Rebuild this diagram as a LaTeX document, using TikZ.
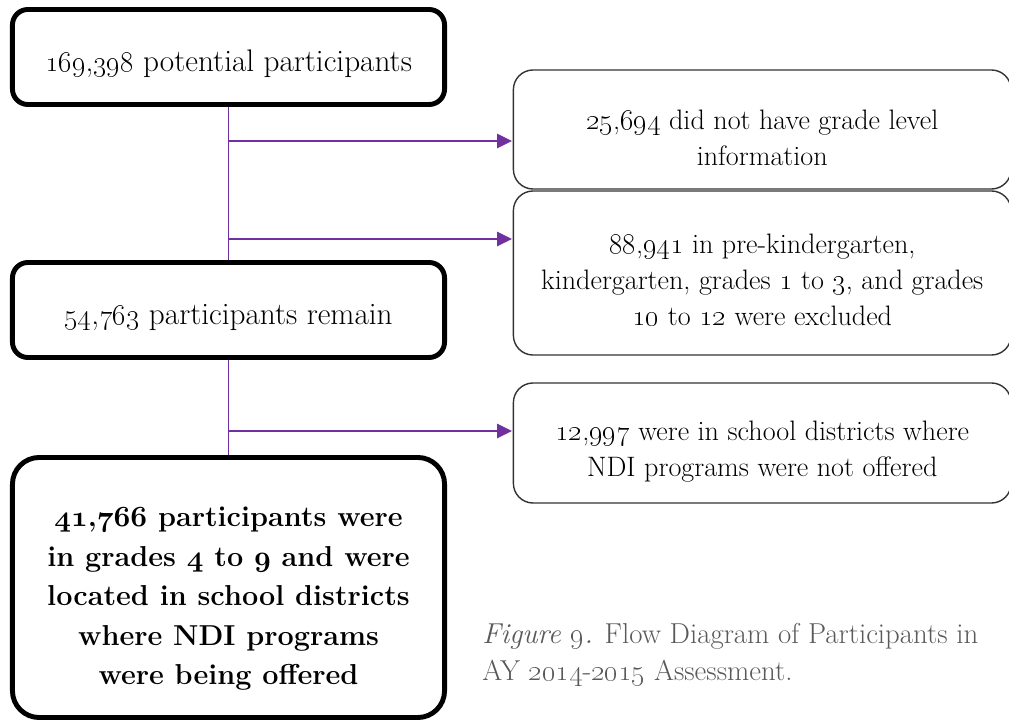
\documentclass[tikz,border=0pt]{standalone}
\usetikzlibrary{arrows.meta}
\definecolor{flowpurple}{HTML}{7030A0}
\definecolor{capgray}{HTML}{595959}
\definecolor{boxgray}{HTML}{333333}
\newcommand{\osf}[1]{\oldstylenums{#1}}
\newcommand{\osfb}[1]{{\usefont{OML}{cmm}{b}{it}#1}}
\newcommand{\padtop}[1]{\rule{0pt}{#1}}

\begin{document}
\begin{tikzpicture}[x=0.025cm, y=-0.025cm,
    font=\fontsize{20}{25.5}\selectfont,
    mainbox/.style={draw=black, line width=3.5pt, rounded corners=11pt,
      minimum width=10.8cm, minimum height=2.375cm, align=center, inner sep=0pt,
      font=\fontsize{22.2}{28}\selectfont},
    sidebox/.style={draw=boxgray, line width=1pt, rounded corners=14pt,
      minimum width=12.44cm, align=center, inner sep=0pt},
    flow/.style={draw=flowpurple, line width=1.4pt},
    flowarrow/.style={flow, -{Triangle[length=10.5pt,width=10pt]}, shorten >=0.5pt},
    caption/.style={anchor=base west, text=capgray, inner sep=0pt,
      font=\fontsize{20.5}{25}\selectfont}]

 \useasboundingbox (0,0) rectangle (1009,721);
 \clip (0,0) rectangle (1009,721);

 % left column
 \node (start) at (228.5,57) [mainbox] {\padtop{25pt}\osf{169},\osf{398} potential participants};
 \node (remain) at (228.5,310) [mainbox] {\padtop{25pt}\osf{54},\osf{763} participants remain};
 \node (final) at (228.5,587.5) [mainbox, minimum height=6.5cm, rounded corners=19pt,
   font=\fontsize{20.5}{28}\selectfont\bfseries]
   {\padtop{30pt}\osfb{41},\osfb{766} participants were\\in grades \osfb{4} to \osfb{9} and were\\located in school districts\\where NDI programs\\were being offered};

 % exclusions
 \node (nograde) at (762.25,129.5) [sidebox, minimum height=2.975cm]
   {\padtop{26pt}\osf{25},\osf{694} did not have grade level\\information};
 \node (outgrade) at (762.25,273) [sidebox, minimum height=4.1cm]
   {\padtop{24pt}\osf{88},\osf{941} in pre-kindergarten,\\kindergarten, grades \osf{1} to \osf{3}, and grades\\\osf{10} to \osf{12} were excluded};
 \node (nondi) at (762.25,443) [sidebox, minimum height=3cm]
   {\padtop{26pt}\osf{12},\osf{997} were in school districts where\\NDI programs were not offered};

 % connectors
 \coordinate (split1) at (228,141);
 \coordinate (split2) at (228,239);
 \coordinate (split3) at (228,431);

 \draw [flow] (start.south) -- (remain.north);
 \draw [flow] (remain.south) -- (final.north);
 \draw [flowarrow] (split1) -- (split1 -| nograde.west);
 \draw [flowarrow] (split2) -- (split2 -| outgrade.west);
 \draw [flowarrow] (split3) -- (split3 -| nondi.west);

 % caption
 \node (cap1) at (482,643) [caption] {\textit{Figure \osf{9}.} Flow Diagram of Participants in};
 \node (cap2) at (482,680) [caption] {AY \osf{2014}-\osf{2015} Assessment.};

\end{tikzpicture}
\end{document}
